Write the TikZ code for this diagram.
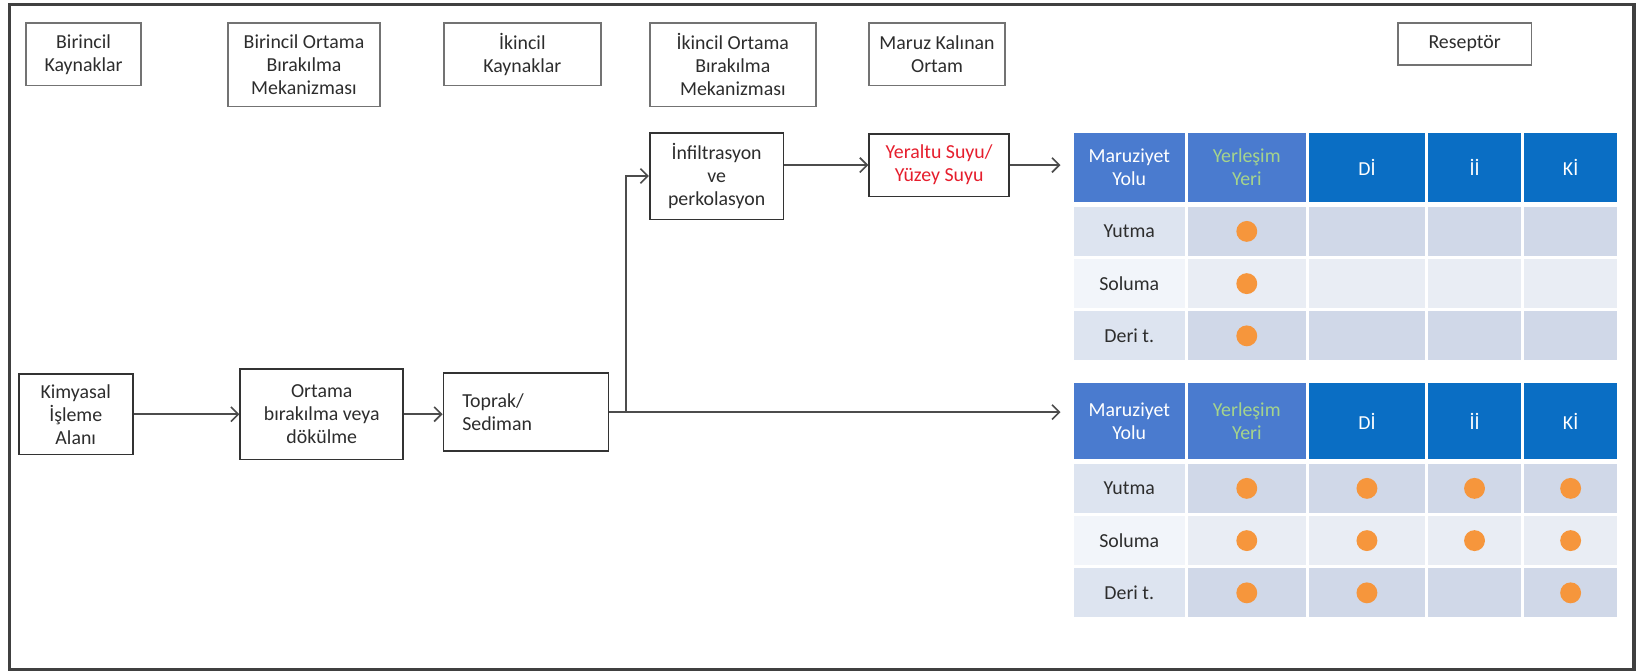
\documentclass[tikz,border=0pt]{standalone}
\usepackage{fontspec}
\setmainfont{Carlito}
\usepackage{tikz}
\usetikzlibrary{arrows.meta,positioning}
\definecolor{HdrBlue}{RGB}{74,123,207}
\definecolor{HdrDeep}{RGB}{10,110,196}
\definecolor{HdrGreen}{RGB}{165,212,140}
\definecolor{RowDark}{RGB}{208,216,232}
\definecolor{RowLight}{RGB}{233,237,244}
\definecolor{LabDark}{RGB}{221,228,240}
\definecolor{LabLight}{RGB}{242,245,250}
\definecolor{DotOrange}{RGB}{246,150,60}
\definecolor{WaterRed}{RGB}{230,30,45}
\definecolor{InkGray}{RGB}{45,45,45}

\begin{document}
\begin{tikzpicture}[x=0.5pt,y=-0.5pt,>={Straight Barb[length=3.5pt,width=7pt]},line width=0.8pt,
  font=\fontsize{9.5}{11}\selectfont,text=InkGray,
  headbox/.style={draw=black!55,fill=white,align=center,inner sep=1pt},
  flowbox/.style={draw=black!80,fill=white,align=center,inner sep=1pt},
  cell/.style={inner sep=0pt,align=center},
  dot/.style={circle,fill=DotOrange,minimum size=10pt,inner sep=0pt}]

\useasboundingbox (0,0) rectangle (1568,643);
\draw[line width=1.6pt,black!75] (9,4) rectangle (1564,641);

% column heads
\node[headbox,minimum width=55pt,minimum height=30pt] (srcA) at (80,52) {Birincil\\Kaynaklar};
\node[headbox,minimum width=73pt,minimum height=40pt] (relA) at (291,62) {Birincil Ortama\\Bırakılma\\Mekanizması};
\node[headbox,minimum width=75pt,minimum height=30pt] (srcB) at (500,52) {İkincil\\Kaynaklar};
\node[headbox,minimum width=79.5pt,minimum height=40pt] (relB) at (701.5,62) {İkincil Ortama\\Bırakılma\\Mekanizması};
\node[headbox,minimum width=65pt,minimum height=30pt] (medium) at (897,52) {Maruz Kalınan\\Ortam};
\node[headbox,minimum width=64pt,minimum height=20pt] (recep) at (1402,42) {Reseptör};

% flow
\node[flowbox,minimum width=54.5pt,minimum height=38.5pt] (kimya) at (72.5,396.5) {Kimyasal\\İşleme\\Alanı};
\node[flowbox,minimum width=78pt,minimum height=43.5pt] (dokul) at (308,396.5) {Ortama\\bırakılma veya\\dökülme};
\node[flowbox,minimum width=78.5pt,minimum height=37.5pt,text width=61pt,inner xsep=9pt,align=left] (toprak) at (503.5,394.5) {Toprak/\\Sediman};
\node[flowbox,minimum width=64pt,minimum height=41.5pt] (infil) at (686,168.5) {İnfiltrasyon\\ve\\perkolasyon};
\node[flowbox,minimum width=67pt,minimum height=30pt,text=WaterRed] (suyu) at (899,158) {Yeraltu Suyu/\\Yüzey Suyu};

% receptor tables
\foreach \tb/\ty/\hh in {t1/127/66,t2/367/72}{
  \foreach \c/\cx/\cw/\cf/\tf/\txt in {1/1081/53pt/HdrBlue/white/{Maruziyet\\Yolu},
      2/1193.5/56.5pt/HdrBlue/HdrGreen/{Yerleşim\\Yeri},3/1308.5/55.5pt/HdrDeep/white/Dİ,
      4/1411.5/44.5pt/HdrDeep/white/İİ,5/1503.5/44.5pt/HdrDeep/white/Kİ}
    \node[cell,fill=\cf,text=\tf,minimum width=\cw,minimum height=\hh*0.5pt] (\tb-h\c) at (\cx,\ty+\hh/2) {\txt};
  \foreach \r/\rf/\lf/\lab in {1/RowDark/LabDark/Yutma,2/RowLight/LabLight/Soluma,3/RowDark/LabDark/{Deri t.}}{
    \node[cell,fill=\lf,minimum width=53pt,minimum height=23.5pt] (\tb-1-\r) at (1081,\ty+\hh+28.5+\r*50-50) {\lab};
    \foreach \c/\cx/\cw in {2/1193.5/56.5pt,3/1308.5/55.5pt,4/1411.5/44.5pt,5/1503.5/44.5pt}
      \node[cell,fill=\rf,minimum width=\cw,minimum height=23.5pt] (\tb-\c-\r) at (\cx,\ty+\hh+28.5+\r*50-50) {};
  }
}
\foreach \tb/\c/\r in {t1/2/1,t1/2/2,t1/2/3,t2/2/1,t2/3/1,t2/4/1,t2/5/1,
    t2/2/2,t2/3/2,t2/4/2,t2/5/2,t2/2/3,t2/3/3,t2/5/3}
  \node[dot] (\tb-d\c\r) at (\tb-\c-\r) {};

% connectors
\begin{scope}[draw=black!70]
\draw[->] (kimya) -- (dokul);
\draw[->] (dokul.east) -- (dokul.east -| toprak.west);
\draw[->] (toprak.east) -- ++(16,0) |- (infil.west);
\draw[->] (infil.east |- suyu.west) -- (suyu.west);
\draw[->,shorten >=6pt] (suyu.east) -- (suyu.east -| t1-h1.west);
\draw[->,shorten >=6pt] (toprak.east) -- (toprak.east -| t2-h1.west);
\end{scope}
\end{tikzpicture}
\end{document}
